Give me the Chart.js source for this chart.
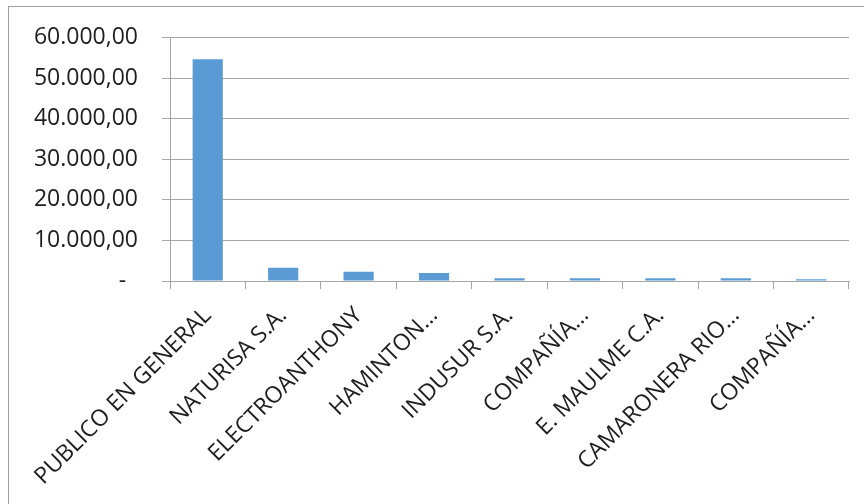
<!DOCTYPE html>
<html>
<head>
<meta charset="utf-8">
<script src="https://cdn.jsdelivr.net/npm/chart.js@4.4.1/dist/chart.umd.min.js"></script>
<style>
  html, body { margin: 0; padding: 0; background: #ffffff; }
  #wrap { position: relative; width: 864px; height: 504px; overflow: hidden; }
  #frame { position: absolute; left: 8px; top: 6px; width: 900px; height: 600px;
           border-left: 1px solid #a0a0a0; border-top: 1px solid #a0a0a0; box-sizing: border-box; }
  #c { position: absolute; left: 0; top: 0; }
</style>
</head>
<body>
<div id="wrap">
  <div id="frame"></div>
  <canvas id="c" width="864" height="504"></canvas>
</div>
<script>
const categories = [
  'PUBLICO EN GENERAL',
  'NATURISA S.A.',
  'ELECTROANTHONY',
  'HAMINTON…',
  'INDUSUR S.A.',
  'COMPAÑÍA…',
  'E. MAULME C.A.',
  'CAMARONERA RIO…',
  'COMPAÑÍA…'
];
const values = [54700, 3250, 2280, 1950, 660, 660, 660, 660, 420];
const yTickValues = [0, 10000, 20000, 30000, 40000, 50000, 60000];
const yTickLabels = ['-  ', '10.000,00', '20.000,00', '30.000,00', '40.000,00', '50.000,00', '60.000,00'];

const FONT = { family: '"Open Sans", "Liberation Sans", sans-serif', size: 23 };
const GRAY = '#a6a6a6';
const TEXT = '#1e1e1e';

new Chart(document.getElementById('c'), {
  type: 'bar',
  data: {
    labels: categories,
    datasets: [{
      data: values,
      backgroundColor: '#5b9bd5',
      borderWidth: 0,
      categoryPercentage: 1.0,
      barPercentage: 0.4
    }]
  },
  options: {
    responsive: false,
    animation: false,
    devicePixelRatio: 1,
    layout: { padding: { top: 36, right: 15, bottom: 0, left: 0 } },
    plugins: { legend: { display: false }, tooltip: { enabled: false } },
    scales: {
      x: {
        grid: { display: true, drawOnChartArea: false, drawTicks: true, tickLength: 8, color: GRAY, lineWidth: 1 },
        border: { display: true, color: GRAY, width: 1 },
        ticks: {
          autoSkip: false, maxRotation: 45, minRotation: 45,
          font: FONT, color: TEXT, padding: 13
        },
        afterFit: (s) => { s.height = 504 - 281; }
      },
      y: {
        min: 0, max: 60000,
        grid: { color: GRAY, lineWidth: 1, drawTicks: true, tickLength: 8 },
        border: { display: true, color: GRAY, width: 1 },
        ticks: {
          stepSize: 10000, font: FONT, color: TEXT, padding: 24,
          callback: (v) => { const i = yTickValues.indexOf(v); return i >= 0 ? yTickLabels[i] : ''; }
        },
        afterFit: (s) => { s.width = 170; }
      }
    }
  }
});
</script>
</body>
</html>
